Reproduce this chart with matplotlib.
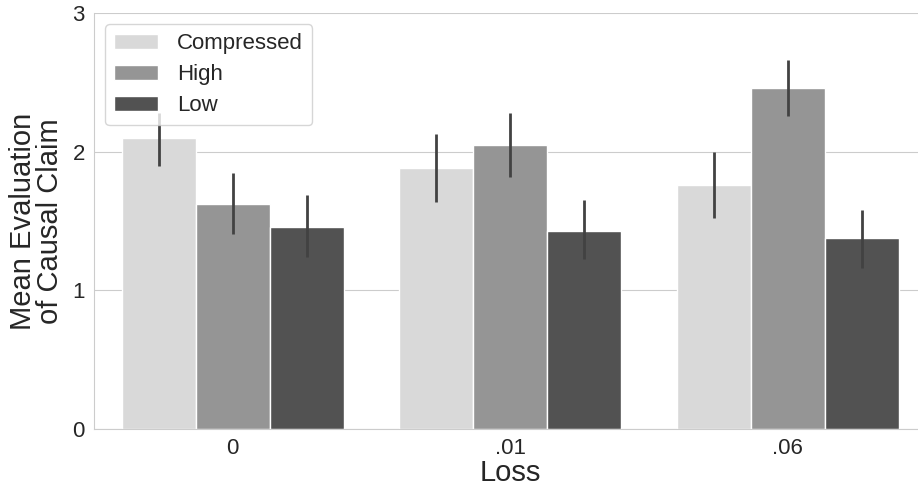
import numpy as np
import matplotlib
matplotlib.use('Agg')
import matplotlib.pyplot as plt
import seaborn as sns

# values
loss_labels = ['0', '.01', '.06']
conditions = ['Compressed', 'High', 'Low']
means = {
    'Compressed': [2.10, 1.88, 1.76],
    'High': [1.62, 2.05, 2.46],
    'Low': [1.46, 1.43, 1.38],
}
ci_low = {
    'Compressed': [1.90, 1.64, 1.52],
    'High': [1.41, 1.82, 2.26],
    'Low': [1.24, 1.23, 1.16],
}
ci_high = {
    'Compressed': [2.28, 2.13, 2.00],
    'High': [1.85, 2.28, 2.66],
    'Low': [1.69, 1.65, 1.58],
}
colors = ['#d9d9d9', '#959595', '#525252']

sns.set_style('whitegrid')
plt.rcParams['font.family'] = ['Liberation Sans', 'DejaVu Sans']

fig = plt.figure(figsize=(9.18, 4.87), dpi=100)
ax = fig.add_axes([0.1024, 0.119, 0.907, 0.854])

x = np.arange(len(loss_labels))
width = 0.8 / len(conditions)
for i, cond in enumerate(conditions):
    pos = x - 0.4 + width * (i + 0.5)
    ax.bar(pos, means[cond], width=width, color=colors[i], edgecolor='white',
           linewidth=1, label=cond, zorder=2)
    ax.vlines(pos, ci_low[cond], ci_high[cond], color='#424242', linewidth=2, zorder=3)

ax.set_xlim(-0.5, 2.5)
ax.set_ylim(0, 3)
ax.set_yticks([0, 1, 2, 3])
ax.set_xticks(x)
ax.set_xticklabels(loss_labels)
ax.tick_params(labelsize=16, colors='#262626', pad=3)
ax.set_xlabel('Loss', fontsize=21, color='#262626', labelpad=0)
ax.set_ylabel('Mean Evaluation\nof Causal Claim', fontsize=21, color='#262626',
              linespacing=0.95, labelpad=6)
ax.grid(axis='x', visible=False)
ax.set_axisbelow(True)
for s in ['top', 'right']:
    ax.spines[s].set_visible(False)
for s in ['left', 'bottom']:
    ax.spines[s].set_color('#cccccc')

ax.legend(loc='upper left', fontsize=16, frameon=True, handlelength=2.0,
          handletextpad=0.85, borderpad=0.4, labelspacing=0.45)

fig.savefig('out.png', dpi=100)
